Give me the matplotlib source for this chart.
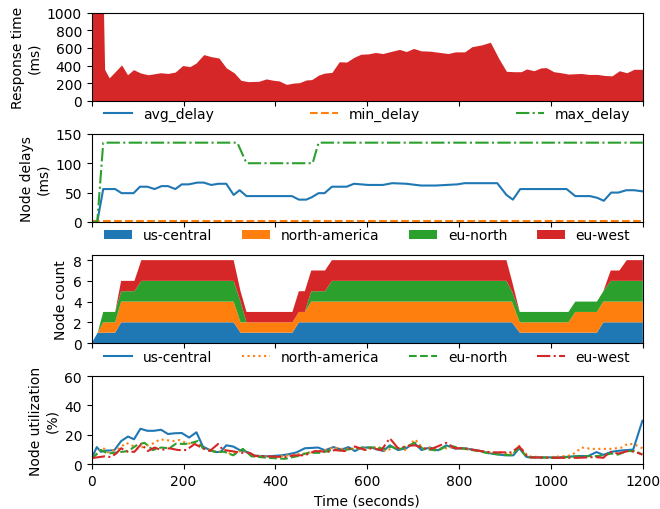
import numpy as np
import matplotlib
matplotlib.use("Agg")
import matplotlib.pyplot as plt

# response time (ms)
resp_t = [0, 22, 28, 38, 51, 65, 78, 91, 107, 123, 150, 166, 182, 198, 214, 227, 244, 260,
          277, 293, 310, 325, 341, 364, 380, 396, 408, 424, 440, 452, 467, 479, 494, 507,
          523, 539, 555, 571, 586, 602, 618, 634, 654, 670, 685, 701, 717, 737, 753, 776,
          792, 812, 828, 848, 868, 887, 903, 919, 935, 947, 963, 978, 990, 1006, 1022,
          1038, 1066, 1082, 1101, 1117, 1133, 1149, 1165, 1181, 1200]
resp_ms = [2000, 2000, 358, 261, 331, 408, 296, 354, 315, 296, 319, 311, 327, 401, 389, 428,
           525, 502, 486, 374, 319, 233, 218, 222, 249, 233, 226, 187, 202, 206, 237, 241,
           292, 315, 323, 444, 440, 494, 529, 533, 549, 537, 564, 584, 560, 595, 568, 564,
           553, 537, 556, 556, 615, 634, 665, 475, 335, 331, 331, 362, 342, 374, 377, 331,
           319, 304, 311, 300, 300, 288, 284, 342, 319, 358, 358]

# node delays (ms)
avg_t = [0, 12, 25, 51, 65, 91, 105, 121, 137, 152, 166, 182, 196, 211, 230, 244, 260, 276,
         293, 309, 322, 337, 436, 451, 467, 479, 494, 507, 523, 555, 571, 602, 634, 654,
         685, 717, 749, 796, 812, 883, 903, 917, 933, 1034, 1053, 1085, 1101, 1115, 1131,
         1147, 1164, 1181, 1200]
avg_delay = [0, 0, 56, 56, 49, 49, 60, 60, 56, 61, 61, 56, 64, 64, 67, 67, 63, 65, 65, 46,
             54, 44, 44, 38, 38, 42, 49, 49, 60, 60, 65, 63, 63, 66, 65, 62, 62, 64, 66, 66,
             46, 38, 56, 56, 44, 44, 41, 36, 50, 50, 54, 54, 52]
min_t = [0, 1200]
min_delay = [1, 1]
max_t = [0, 12, 25, 317, 337, 481, 494, 1200]
max_delay = [0, 0, 135, 135, 100, 100, 135, 135]

# node count per region
node_t = [0, 13, 25, 51, 64, 93, 108, 309, 324, 337, 437, 451, 464, 478, 508, 523, 903,
          915, 932, 1038, 1053, 1100, 1114, 1130, 1149, 1165, 1200]
cnt_us = [0, 1, 1, 1, 2, 2, 2, 2, 1, 1, 1, 2, 2, 2, 2, 2, 2, 2, 1, 1, 1, 1, 2, 2, 2, 2, 2]
cnt_na = [0, 0, 1, 1, 2, 2, 2, 2, 1, 1, 1, 1, 1, 2, 2, 2, 2, 2, 1, 1, 2, 2, 2, 2, 2, 2, 2]
cnt_eun = [0, 0, 1, 1, 1, 1, 2, 2, 2, 0, 0, 0, 0, 1, 1, 2, 2, 1, 1, 1, 1, 1, 1, 2, 2, 2, 2]
cnt_euw = [0, 0, 0, 0, 1, 1, 2, 2, 1, 1, 1, 2, 2, 2, 2, 2, 2, 1, 0, 0, 0, 0, 0, 1, 1, 2, 2]
regions = ["us-central", "north-america", "eu-north", "eu-west"]

# node utilization (%)
us_t = [0, 11, 20, 31, 49, 64, 79, 92, 106, 121, 135, 151, 166, 180, 196, 212, 228, 242,
        257, 271, 281, 293, 308, 322, 340, 355, 384, 413, 428, 446, 464, 493, 508, 526,
        544, 559, 573, 588, 609, 617, 635, 649, 667, 685, 702, 718, 736, 754, 772, 791,
        812, 841, 870, 900, 918, 931, 947, 979, 1016, 1059, 1081, 1099, 1114, 1132, 1150,
        1179, 1199]
us_util = [4.1, 11.6, 8.4, 9.2, 9.4, 15.7, 18.8, 16.9, 24.1, 22.7, 22.7, 23.4, 20.5, 21.0,
           21.2, 18.1, 21.7, 12.0, 9.6, 8.2, 8.4, 12.8, 12.0, 9.6, 8.0, 5.8, 5.3, 6.0, 6.7,
           8.0, 10.8, 11.3, 9.4, 11.6, 9.9, 11.6, 8.9, 11.3, 11.3, 10.4, 8.9, 12.8, 9.6,
           10.8, 14.5, 9.6, 11.3, 9.4, 12.8, 10.6, 10.8, 9.2, 7.2, 6.0, 6.0, 10.8, 4.8, 4.6,
           4.6, 5.5, 5.5, 8.2, 6.3, 8.4, 9.2, 9.9, 29.5]
na_t = [0, 24, 35, 60, 75, 89, 100, 122, 137, 148, 162, 177, 191, 209, 228, 246, 260, 275,
        289, 304, 329, 348, 369, 399, 428, 457, 486, 508, 526, 544, 573, 595, 609, 624,
        638, 660, 682, 704, 722, 740, 762, 783, 812, 841, 870, 892, 914, 931, 950, 987,
        1023, 1045, 1067, 1088, 1110, 1132, 1154, 1168, 1183, 1199]
na_util = [3.6, 11.3, 8.0, 10.8, 14.5, 12.5, 10.4, 12.8, 14.5, 16.9, 16.4, 15.7, 16.4, 14.0,
           14.5, 10.4, 9.6, 8.0, 9.6, 6.5, 9.6, 6.0, 5.3, 4.8, 6.0, 7.0, 8.4, 9.6, 11.3,
           10.4, 10.4, 10.8, 10.8, 12.0, 8.9, 11.3, 9.6, 16.9, 10.4, 11.3, 10.4, 11.3, 10.4,
           9.2, 7.7, 8.0, 6.7, 12.5, 5.3, 4.6, 5.3, 6.0, 11.3, 10.4, 10.4, 10.4, 11.3, 14.0,
           13.3, 10.8]
eun_t = [0, 20, 35, 57, 79, 100, 115, 133, 151, 169, 184, 202, 217, 231, 242, 268, 289, 308,
         329, 348, 384, 420, 449, 471, 500, 522, 551, 573, 602, 617, 638, 653, 667, 704,
         722, 754, 776, 805, 841, 870, 914, 931, 947, 1016, 1059, 1103, 1132, 1146, 1165,
         1183, 1199]
eun_util = [3.6, 9.6, 7.2, 8.0, 8.9, 13.3, 14.5, 9.6, 11.3, 10.8, 14.0, 13.7, 14.5, 15.7,
            10.8, 8.4, 8.4, 6.0, 10.4, 5.3, 4.3, 3.6, 5.5, 7.7, 7.7, 9.6, 9.6, 10.8, 11.3,
            11.3, 10.4, 12.0, 9.6, 14.5, 10.4, 9.2, 12.8, 10.8, 8.9, 7.0, 6.0, 11.3, 4.6, 4.3,
            5.3, 5.5, 7.2, 6.5, 8.9, 8.9, 6.5]
euw_t = [0, 28, 42, 53, 64, 79, 93, 108, 122, 137, 151, 169, 188, 206, 224, 242, 257, 275,
         286, 304, 326, 344, 355, 384, 420, 442, 464, 486, 515, 529, 551, 573, 595, 609,
         631, 649, 667, 689, 704, 722, 740, 772, 791, 812, 841, 870, 914, 931, 950, 1001,
         1059, 1096, 1114, 1128, 1146, 1168, 1183, 1199]
euw_util = [4.1, 5.3, 4.8, 7.2, 10.8, 8.4, 8.4, 13.7, 8.9, 11.3, 9.6, 10.8, 9.6, 9.6, 13.7,
            10.8, 8.9, 13.7, 9.6, 8.9, 7.7, 7.7, 5.5, 5.3, 4.8, 6.0, 6.0, 8.9, 8.4, 9.6, 8.9,
            12.0, 9.6, 10.8, 9.6, 17.6, 10.8, 12.5, 12.8, 10.8, 10.4, 14.5, 10.8, 10.8, 9.2,
            8.0, 8.0, 12.0, 4.6, 4.3, 4.3, 4.8, 4.3, 8.4, 7.2, 8.9, 8.4, 6.5]

fig, axes = plt.subplots(4, 1, figsize=(6.6, 5.1), dpi=100, sharex=True)
fig.subplots_adjust(left=0.139, right=0.974, top=0.973, bottom=0.088, hspace=0.375)


def top_legend(ax, ncol):
    # legend sits above its own axes, stretched over the full width
    ax.legend(loc="lower left", bbox_to_anchor=(0., 1., 1., 0.), mode="expand",
              ncol=ncol, frameon=False)


ax = axes[0]
ax.fill_between(resp_t, resp_ms, color="tab:red", linewidth=0)
ax.set_ylim(0, 1000)
ax.set_yticks([0, 200, 400, 600, 800, 1000])
ax.set_ylabel("Response time\n(ms)")

ax = axes[1]
ax.plot(avg_t, avg_delay, color="tab:blue", label="avg_delay")
ax.plot(min_t, min_delay, color="tab:orange", linestyle="--", label="min_delay")
ax.plot(max_t, max_delay, color="tab:green", linestyle="-.", label="max_delay")
ax.set_ylim(0, 150)
ax.set_yticks([0, 50, 100, 150])
ax.set_ylabel("Node delays\n(ms)")
top_legend(ax, 3)

ax = axes[2]
ax.stackplot(node_t, cnt_us, cnt_na, cnt_eun, cnt_euw, labels=regions,
             colors=["tab:blue", "tab:orange", "tab:green", "tab:red"])
ax.set_ylim(0, 8.5)
ax.set_yticks([0, 2, 4, 6, 8])
ax.set_ylabel("Node count")
top_legend(ax, 4)

ax = axes[3]
ax.plot(us_t, us_util, color="tab:blue", linestyle="-", label=regions[0])
ax.plot(na_t, na_util, color="tab:orange", linestyle=":", label=regions[1])
ax.plot(eun_t, eun_util, color="tab:green", linestyle="--", label=regions[2])
ax.plot(euw_t, euw_util, color="tab:red", linestyle="-.", label=regions[3])
ax.set_ylim(0, 60)
ax.set_yticks([0, 20, 40, 60])
ax.set_ylabel("Node utilization\n(%)")
ax.set_xlabel("Time (seconds)")
ax.set_xlim(0, 1200)
ax.set_xticks([0, 200, 400, 600, 800, 1000, 1200])
top_legend(ax, 4)

fig.savefig("out.png")
